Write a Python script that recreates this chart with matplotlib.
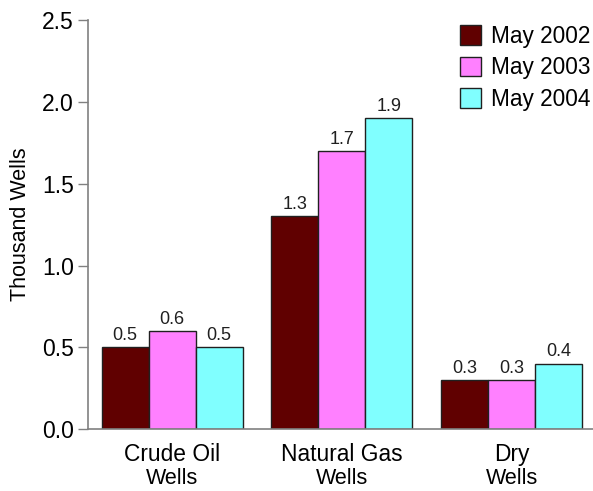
import numpy as np
import matplotlib
matplotlib.use('Agg')
import matplotlib.pyplot as plt
from matplotlib.transforms import blended_transform_factory

plt.rcParams['font.family'] = ['Liberation Sans', 'DejaVu Sans']

# Data
categories = ['Crude Oil', 'Natural Gas', 'Dry']
sub_labels = ['Wells', 'Wells', 'Wells']
series = ['May 2002', 'May 2003', 'May 2004']
values_2002 = [0.5, 1.3, 0.3]
values_2003 = [0.6, 1.7, 0.3]
values_2004 = [0.5, 1.9, 0.4]
colors = ['#600000', '#ff80ff', '#80ffff']

fig = plt.figure(figsize=(5.93, 4.91), dpi=100)
ax = fig.add_axes([0.148, 0.126, 0.852, 0.833])

x = np.arange(len(categories))
width = 0.277
all_values = [values_2002, values_2003, values_2004]
for i, (vals, name, col) in enumerate(zip(all_values, series, colors)):
    bars = ax.bar(x + (i - 1) * width, vals, width, color=col, edgecolor='#202020',
                  linewidth=1.0, label=name, zorder=2)
    for b, v in zip(bars, vals):
        ax.text(b.get_x() + b.get_width() / 2, v + 0.02, f'{v:.1f}',
                ha='center', va='bottom', fontsize=13, color='#202020')

ax.set_xlim(-0.497, 2.48)
ax.set_ylim(0, 2.5)
ax.set_yticks(np.arange(0, 2.51, 0.5))
ax.set_yticklabels([f'{t:.1f}' for t in np.arange(0, 2.51, 0.5)], fontsize=16.5)
ax.set_xticks([])
ax.tick_params(axis='y', direction='out', length=7, color='#808080', width=1, pad=3)
for s in ['top', 'right']:
    ax.spines[s].set_visible(False)
for s in ['left', 'bottom']:
    ax.spines[s].set_color('#808080')
    ax.spines[s].set_linewidth(1.2)
ax.set_ylabel('Thousand Wells', fontsize=15.5, labelpad=8)

trans = blended_transform_factory(ax.transData, ax.transAxes)
for xi, cat, sub in zip(x, categories, sub_labels):
    ax.text(xi, -0.035, cat, transform=trans, ha='center', va='top', fontsize=16.4)
    ax.text(xi, -0.095, sub, transform=trans, ha='center', va='top', fontsize=15.5)

ax.legend(loc='upper left', bbox_to_anchor=(455 / 593, 1 - 20 / 491),
          bbox_transform=fig.transFigure, frameon=False, fontsize=16.3,
          handlelength=0.95, handleheight=0.95, handletextpad=0.44, labelspacing=0.38,
          borderaxespad=0, borderpad=0.2)

fig.savefig('out.png', dpi=100)
